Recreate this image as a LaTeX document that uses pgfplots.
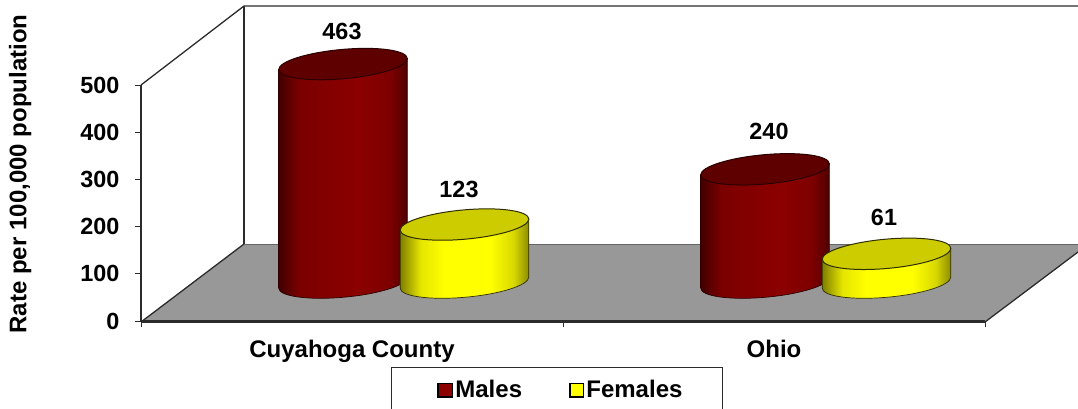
\documentclass[border=0pt]{standalone}
\usepackage{pgfplots}
\pgfplotsset{compat=1.18}
\usepackage{fontspec}
\setmainfont{Liberation Sans}
\definecolor{mMid}{HTML}{8C0000}
\definecolor{mTop}{HTML}{5E0000}
\definecolor{mLine}{HTML}{2A0000}
\definecolor{yMid}{HTML}{FFFF00}
\definecolor{yTop}{HTML}{CCCC00}
\definecolor{yLine}{HTML}{2E2E00}
\definecolor{floorc}{HTML}{989898}
\definecolor{linec}{HTML}{2B2B2B}
\pgfdeclarehorizontalshading{cylMs}{100bp}{color(0bp)=(mTop!70!black);color(25bp)=(mTop!70!black);color(33bp)=(mMid!88!black);color(56bp)=(mMid);color(68bp)=(mMid!90!black);color(75bp)=(mTop!85!black);color(100bp)=(mTop!85!black)}
\pgfdeclarehorizontalshading{cylFs}{100bp}{color(0bp)=(yMid!50!black);color(25bp)=(yMid!50!black);color(33bp)=(yMid!90!black);color(42bp)=(yMid);color(60bp)=(yMid);color(69bp)=(yMid!85!black);color(75bp)=(yMid!55!black);color(100bp)=(yMid!55!black)}
\newcommand{\bigfont}{\fontsize{23.4}{26}\selectfont\bfseries}
\newcommand{\lblfont}{\fontsize{24}{26}\selectfont\bfseries}
% one cylinder: height from the data value \val
% #1 x offset, #2 shading, #3 top colour, #4 outline, #5,#6 label offset
\newcommand{\drawcyl}[6]{%
  \pgfmathsetlengthmacro{\h}{\val*0.472pt}%
  \tikz{\useasboundingbox (0pt,0pt) rectangle (0pt,0pt);
    \begin{scope}[xshift=#1pt,yshift=38.4pt]
    \shade[shading=#2,draw=#4,line width=0.7pt]
      (-64.3pt,-5.5pt) -- ({-64.3pt},{-5.5pt-\h})
      .. controls ({-64.3pt},{-13.62pt-\h}) and ({-35.5pt},{-17.74pt-\h}) .. ({0pt},{-14.7pt-\h})
      .. controls ({35.5pt},{-11.66pt-\h}) and ({64.3pt},{-2.62pt-\h}) .. ({64.3pt},{5.5pt-\h})
      -- (64.3pt,5.5pt) -- cycle;
    \path[fill=#3,draw=#4,line width=1pt] (-64.3pt,-5.5pt)
      .. controls (-64.3pt,2.62pt) and (-35.5pt,11.66pt) .. (0pt,14.7pt)
      .. controls (35.5pt,17.74pt) and (64.3pt,13.62pt) .. (64.3pt,5.5pt)
      .. controls (64.3pt,-2.62pt) and (35.5pt,-11.66pt) .. (0pt,-14.7pt)
      .. controls (-35.5pt,-17.74pt) and (-64.3pt,-13.62pt) .. (-64.3pt,-5.5pt) -- cycle;
    \end{scope}
    \node[font=\bigfont,text=black,inner sep=0pt,anchor=center] at (#5pt,#6pt) {\pgfmathprintnumber{\val}};
  }%
}
\pgfplotsset{
  /pgf/number format/assume math mode=true,
  cyl/.style={
    only marks, mark=none, forget plot,
    visualization depends on=rawy \as \val,
    nodes near coords={#1},
    nodes near coords style={anchor=center,inner sep=0pt,outer sep=0pt},
  }
}
\begin{document}
\begin{tikzpicture}[x=1pt,y=1pt]
\useasboundingbox (0,0) rectangle (1078,408);
% floor and walls
\fill[floorc] (141,86) -- (244,164) -- (1078,164) -- (1078,156) -- (985,86) -- cycle;
\draw[linec,line width=1.3pt] (141,86) -- (244,164);
\draw[black!60,line width=1pt] (244,164) -- (1078,164);
\draw[linec,line width=1.3pt] (985,86) -- (1078,156);
\draw[linec,line width=1.8pt] (141,86) -- (985,86);
\draw[linec,line width=1.3pt] (141,323) -- (244,402) -- (1078,402);
\draw[linec,line width=1.3pt] (244,402) -- (244,164);
\begin{axis}[
  at={(141pt,87pt)},anchor=south west,
  scale only axis,width=844pt,height=236pt,
  xmin=-0.5,xmax=1.5,ymin=0,ymax=500,
  clip=false,
  axis x line*=bottom,axis y line*=left,
  axis line style={linec,line width=1.3pt,-},
  tick style={linec,line width=1pt},
  tick align=outside,major tick length=6pt,
  ytick={0,100,200,300,400,500},
  xtick={-0.5,0.5,1.5},xticklabels={},
  extra x ticks={0,1},
  extra x tick labels={Cuyahoga County,Ohio},
  extra x tick style={major tick length=0pt,tick style={draw=none}},
  tick label style={font=\bigfont},
  yticklabel style={xshift=-12pt},
  xticklabel style={yshift=-16pt,font=\lblfont},
  ylabel={Rate per 100,000 population},
  every axis y label/.style={at={(axis description cs:-0.1433,0.623)},rotate=90,anchor=center,
    font=\lblfont},
  legend columns=2,
  legend style={at={(axis description cs:0.2962,-0.195)},anchor=north west,
    draw=linec,line width=1pt,inner xsep=38pt,inner ysep=11pt,
    font=\lblfont,
    /tikz/every even column/.style={column sep=45pt}},
]
\addplot[cyl={\drawcyl{-9}{cylMs}{mTop}{mLine}{-10}{71.5}}] coordinates {(0,463)};
\addplot[cyl={\drawcyl{112.5}{cylFs}{yTop}{yLine}{107}{73}}] coordinates {(0,123)};
\addplot[cyl={\drawcyl{-9}{cylMs}{mTop}{mLine}{-5}{76.7}}] coordinates {(1,240)};
\addplot[cyl={\drawcyl{112.5}{cylFs}{yTop}{yLine}{110}{75}}] coordinates {(1,61)};
\addlegendimage{legend image code/.code={\path (0pt,0pt); \draw[black,line width=1.8pt,fill=mMid] (8pt,-7pt) rectangle (22.5pt,6.5pt);}}
\addlegendentry{Males}
\addlegendimage{legend image code/.code={\draw[black,line width=1.8pt,fill=yMid] (0pt,-7pt) rectangle (13.5pt,6.5pt);}}
\addlegendentry{Females}
\end{axis}
\end{tikzpicture}
\end{document}
